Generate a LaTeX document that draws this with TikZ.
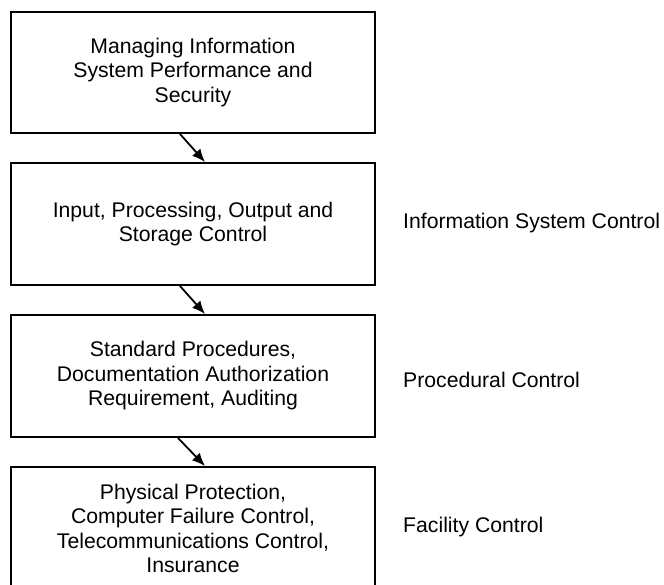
\documentclass[tikz,border=0pt]{standalone}
\usepackage{fontspec}
\setmainfont{Liberation Sans}
\usetikzlibrary{arrows.meta}
\begin{document}
\begin{tikzpicture}[x=1pt,y=-1pt,
  box/.style={draw,line width=2pt,minimum width=364pt,align=center,inner sep=0pt,
    font=\fontsize{21.2}{24.5}\selectfont},
  lbl/.style={anchor=west,inner sep=0pt,font=\fontsize{21.2}{24.5}\selectfont},
  arr/.style={line width=1.8pt,-{Latex[length=13pt,width=11pt]}}]
\useasboundingbox (0,0) rectangle (664,584);
\node[box,minimum height=121pt] (b1) at (193,72.5) {Managing Information\\System Performance and\\Security};
\node[box,minimum height=122pt] (b2) at (193,224) {Input, Processing, Output and\\Storage Control};
\node[box,minimum height=122pt] (b3) at (193,376) {Standard Procedures,\\Documentation Authorization\\Requirement, Auditing};
\node[box,minimum height=123pt] (b4) at (193,528.5) {Physical Protection,\\Computer Failure Control,\\Telecommunications Control,\\Insurance};
\node[lbl] (l1) at (403,223) {Information System Control};
\node[lbl] (l2) at (403,380) {Procedural Control};
\node[lbl] (l3) at (403,527) {Facility Control};
\draw[arr] ([xshift=-13pt]b1.south) -- ([xshift=12pt]b2.north);
\draw[arr] ([xshift=-13pt]b2.south) -- ([xshift=12pt]b3.north);
\draw[arr] ([xshift=-15pt]b3.south) -- ([xshift=12pt]b4.north);
\end{tikzpicture}
\end{document}
